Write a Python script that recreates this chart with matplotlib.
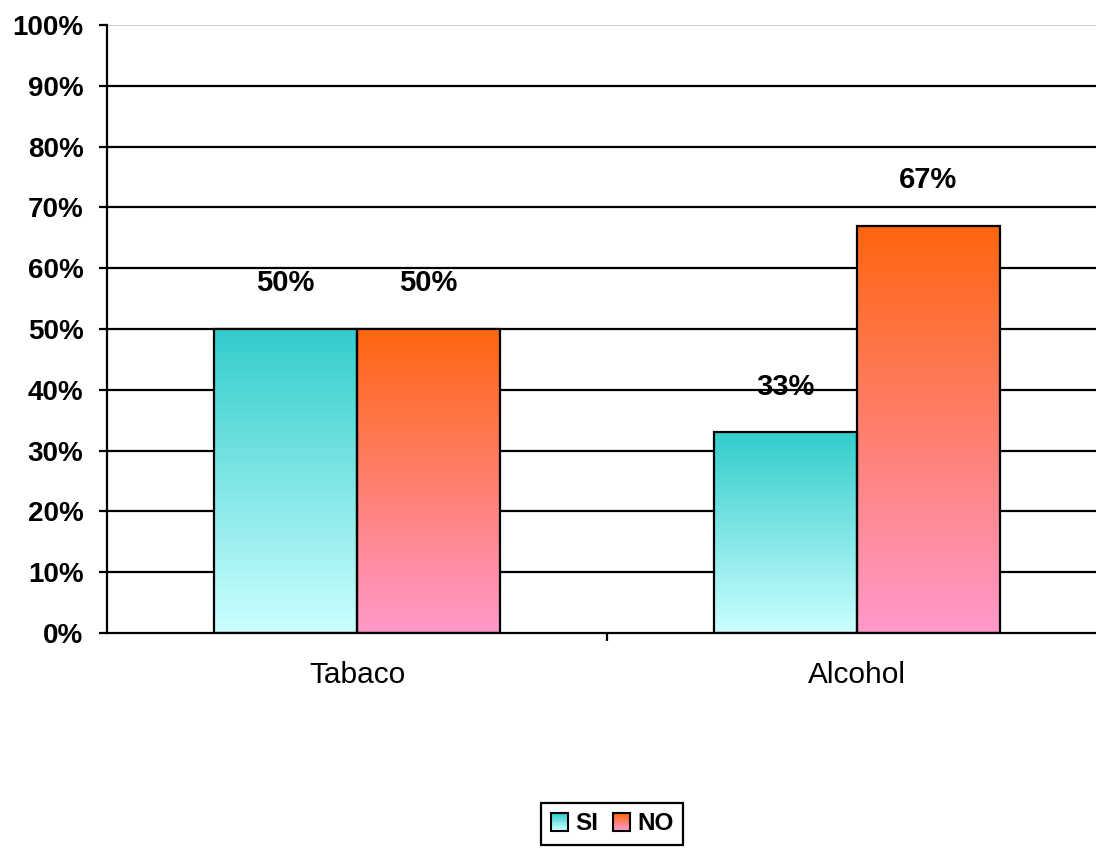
import matplotlib
matplotlib.use('Agg')
import matplotlib.pyplot as plt
import matplotlib.patches as mpatches
from matplotlib.colors import LinearSegmentedColormap
from matplotlib.legend_handler import HandlerBase
import numpy as np

plt.rcParams['font.family'] = ['Liberation Sans', 'DejaVu Sans']

categories = ['Tabaco', 'Alcohol']
series_names = ['SI', 'NO']
si_values = [0.50, 0.33]
no_values = [0.50, 0.67]
value_labels = {'SI': ['50%', '33%'], 'NO': ['50%', '67%']}
y_ticks = [0.0, 0.1, 0.2, 0.3, 0.4, 0.5, 0.6, 0.7, 0.8, 0.9, 1.0]
y_tick_labels = ['0%', '10%', '20%', '30%', '40%', '50%', '60%', '70%', '80%', '90%', '100%']

# gradient colours, (top, bottom) of each bar
gradients = {'SI': ('#33cccc', '#ccffff'), 'NO': ('#ff6610', '#ff99cc')}


def gradient_bar(ax, x, height, width, top, bottom):
    bar = ax.bar(x, height, width=width, facecolor='none', edgecolor='black',
                 linewidth=1.6, zorder=4)[0]
    cmap = LinearSegmentedColormap.from_list('g', [top, bottom])
    grad = np.linspace(0, 1, 256).reshape(-1, 1)
    img = ax.imshow(grad, cmap=cmap, aspect='auto', origin='upper',
                    extent=[x - width / 2, x + width / 2, 0, height], zorder=3)
    img.set_clip_path(bar)
    return bar


class GradientSquare(HandlerBase):
    # legend box drawn as thin horizontal strips going from top to bottom colour
    def __init__(self, top, bottom):
        super().__init__()
        self.cmap = LinearSegmentedColormap.from_list('g', [top, bottom])

    def create_artists(self, legend, orig_handle, xdescent, ydescent,
                       width, height, fontsize, trans):
        n = 12
        artists = []
        for i in range(n):
            y0 = -ydescent + height * (1 - (i + 1) / n)
            artists.append(mpatches.Rectangle((-xdescent, y0), width, height / n,
                                              facecolor=self.cmap(i / (n - 1)),
                                              edgecolor='none', transform=trans))
        artists.append(mpatches.Rectangle((-xdescent, -ydescent), width, height,
                                          facecolor='none', edgecolor='black',
                                          linewidth=1.5, transform=trans))
        return artists


fig = plt.figure(figsize=(10.96, 8.48), dpi=100)
ax = fig.add_axes([107 / 1096, 215 / 848, 1000 / 1096, 608 / 848])

x = np.arange(len(categories))
bw = 0.286
handles = []
for offset, name, vals in [(-bw / 2, 'SI', si_values), (bw / 2, 'NO', no_values)]:
    top, bottom = gradients[name]
    for i, v in enumerate(vals):
        b = gradient_bar(ax, x[i] + offset, v, bw, top, bottom)
        ax.annotate(value_labels[name][i], (x[i] + offset, v), xytext=(0, 33),
                    textcoords='offset points', ha='center', va='center',
                    fontsize=21, fontweight='bold', zorder=6)
    handles.append(b)

# horizontal gridlines, the top one lighter
for t in y_ticks[1:-1]:
    ax.axhline(t, color='black', linewidth=1.6, zorder=1)
ax.axhline(1.0, color='#c8c8c8', linewidth=1.2, zorder=1)

ax.set_xlim(-0.5, 1.5)
ax.set_ylim(0, 1)
ax.set_yticks(y_ticks)
ax.set_yticklabels(y_tick_labels, fontsize=20, fontweight='bold')
ax.set_xticks(x)
ax.set_xticklabels(categories, fontsize=21.5)
ax.set_xticks([0.5], minor=True)
ax.tick_params(axis='x', which='major', length=0, pad=20)
ax.tick_params(axis='x', which='minor', length=6, width=1.6, direction='out')
ax.tick_params(axis='y', length=6, width=1.6, direction='out', pad=11)

for s in ['top', 'right']:
    ax.spines[s].set_visible(False)
for s in ['left', 'bottom']:
    ax.spines[s].set_linewidth(1.6)
    ax.spines[s].set_zorder(5)

leg = fig.legend(handles, series_names, loc='center',
                 bbox_to_anchor=(612 / 1096, 1 - 824 / 848), ncol=2,
                 handler_map={handles[0]: GradientSquare(*gradients['SI']),
                              handles[1]: GradientSquare(*gradients['NO'])},
                 prop={'size': 17.5, 'weight': 'bold'}, fancybox=False,
                 edgecolor='black', framealpha=1, handlelength=0.7,
                 handleheight=0.7, handletextpad=0.3, columnspacing=0.6,
                 borderpad=0.4, borderaxespad=0)
leg.get_frame().set_linewidth(1.6)

fig.savefig('out.png', dpi=100)
